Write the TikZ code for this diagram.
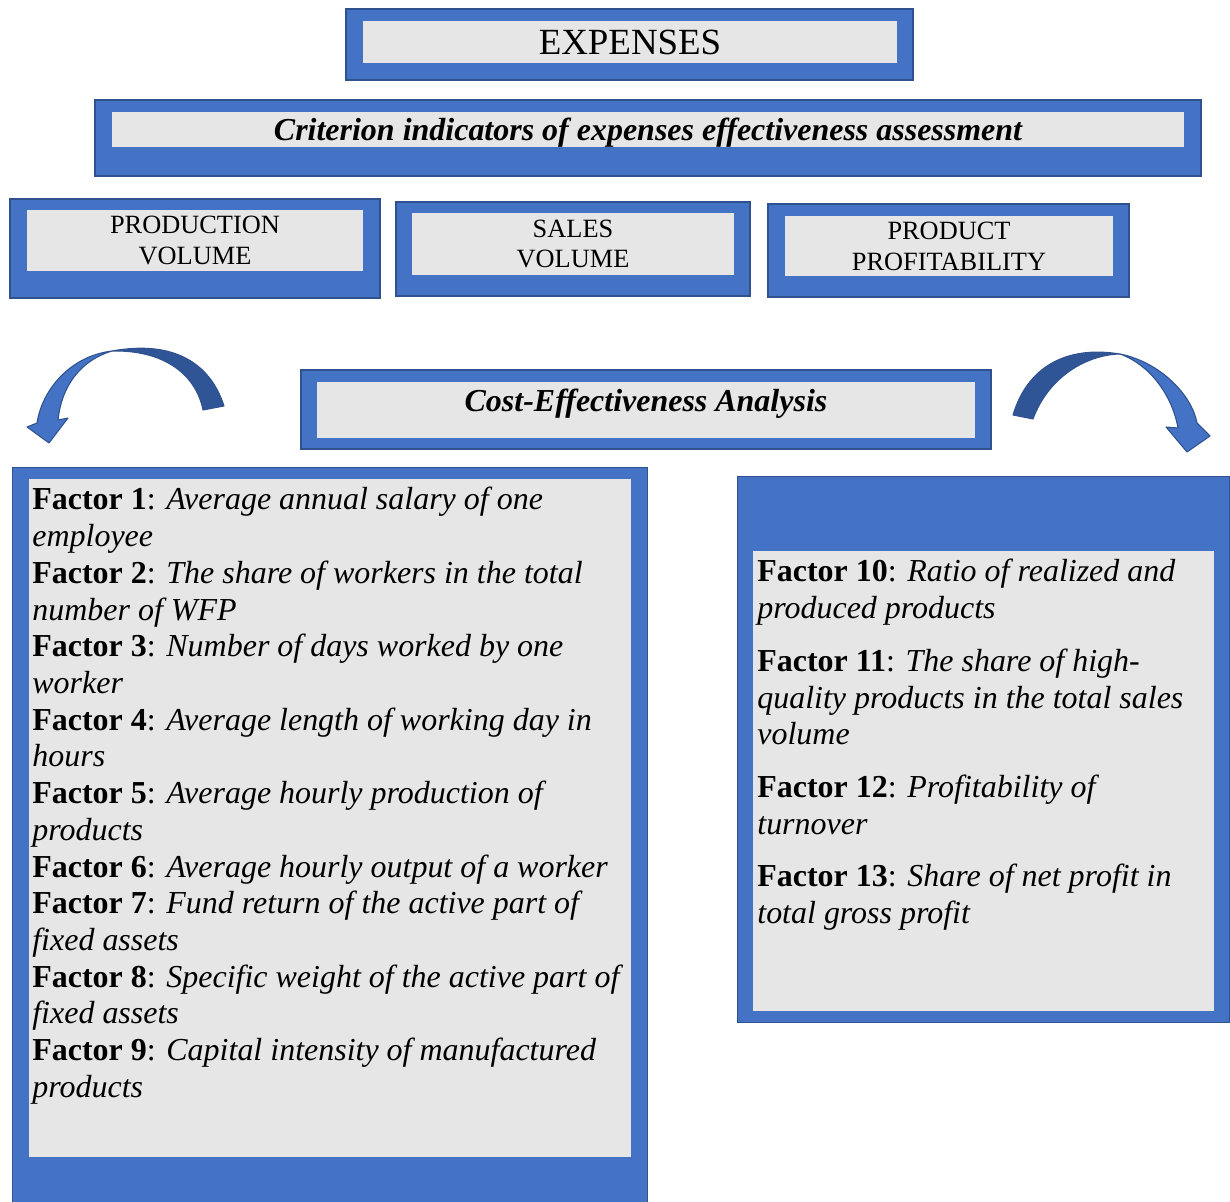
\documentclass[tikz,border=0pt]{standalone}
\usepackage{fontspec}
\setmainfont{Liberation Serif}
\usepackage{xcolor}
\usetikzlibrary{positioning}
\definecolor{boxblue}{HTML}{4472C4}
\definecolor{boxedge}{HTML}{2F528F}
\definecolor{arrowdark}{HTML}{2F5597}
\definecolor{boxgrey}{HTML}{E6E6E6}

\begin{document}
\begin{tikzpicture}[x=0.02cm, y=-0.02cm,
    frame/.style={draw=boxedge, line width=0.8pt, fill=boxblue, inner sep=0pt},
    panel/.style={fill=boxgrey, inner sep=0pt, align=center},
    small/.style={font=\fontsize{15}{17.6}\selectfont},
    heading/.style={font=\fontsize{18.2}{20.9}\selectfont\bfseries\itshape},
    factors/.style={inner sep=0pt, align=left, anchor=north west, font=\fontsize{18.2}{20.9}\selectfont},
    curvearrow/.style={draw=boxedge, line width=0.6pt, line join=round}]
    \useasboundingbox (0,0) rectangle (1230,1202);
        % Expenses
        \node[frame, minimum width=11.34cm, minimum height=1.42cm] (expOut) at (629.5,44.5) {};
        \node[panel, minimum width=10.68cm, minimum height=0.84cm, font=\fontsize{21}{24}\selectfont] (exp) at (630,42) {EXPENSES};
        % Criterion indicators
        \node[frame, minimum width=22.12cm, minimum height=1.52cm] (critOut) at (648,138) {};
        \node[panel, minimum width=21.44cm, minimum height=0.7cm,
            label={[yshift=-0.07cm, heading]center:Criterion indicators of expenses effectiveness assessment}] (crit) at (648,129.5) {};
        % Indicators
        \node[frame, minimum width=7.4cm, minimum height=1.98cm] (prodOut) at (195,248.5) {};
        \node[panel, small, minimum width=6.72cm, minimum height=1.22cm] (prod) at (195,240.5) {PRODUCTION\\VOLUME};
        \node[frame, minimum width=7.08cm, minimum height=1.88cm] (salesOut) at (573,249) {};
        \node[panel, small, minimum width=6.44cm, minimum height=1.24cm] (sales) at (573,244) {SALES\\VOLUME};
        \node[frame, minimum width=7.22cm, minimum height=1.86cm] (profOut) at (948.5,250.5) {};
        \node[panel, small, minimum width=6.56cm, minimum height=1.2cm] (prof) at (949,246) {PRODUCT\\PROFITABILITY};
        % Analysis
        \node[frame, minimum width=13.8cm, minimum height=1.58cm] (ceaOut) at (646,409.5) {};
        \node[panel, minimum width=13.16cm, minimum height=1.12cm,
            label={[yshift=0.12cm, heading]center:Cost-Effectiveness Analysis}] (cea) at (646,410) {};
        % Curved arrows
        \fill[arrowdark, curvearrow] (224,406) .. controls (210,362) and (172,340) .. (112,351)
            .. controls (165,350) and (196,375) .. (203,410) -- cycle;
        \fill[boxblue, curvearrow] (112,351) .. controls (70,356) and (42,390) .. (37,423) -- (27,427) -- (49,443)
            -- (68,418) -- (58,420) .. controls (62,384) and (82,360) .. (112,351) -- cycle;
        \fill[arrowdark, curvearrow] (1013,415) .. controls (1027,368) and (1065,345) .. (1120,354)
            .. controls (1085,355) and (1048,378) .. (1033,419) -- cycle;
        \fill[boxblue, curvearrow] (1120,354) .. controls (1160,362) and (1192,395) .. (1197,423) -- (1210,436) -- (1187,452)
            -- (1166,427) -- (1178,428) .. controls (1172,395) and (1150,365) .. (1120,354) -- cycle;
        % Factors 1-9
        \node[frame, minimum width=12.7cm, minimum height=15cm, anchor=north west] (facLOut) at (12,467) {};
        \node[panel, minimum width=12.04cm, minimum height=13.56cm, anchor=north west] (facL) at (29,479) {};
        \node[factors] (facLTxt) at (32,487) {%
            \textbf{Factor 1}: \textit{Average annual salary of one}\\
            \textit{employee}\\
            \textbf{Factor 2}: \textit{The share of workers in the total}\\
            \textit{number of WFP}\\
            \textbf{Factor 3}: \textit{Number of days worked by one}\\
            \textit{worker}\\
            \textbf{Factor 4}: \textit{Average length of working day in}\\
            \textit{hours}\\
            \textbf{Factor 5}: \textit{Average hourly production of}\\
            \textit{products}\\
            \textbf{Factor 6}: \textit{Average hourly output of a worker}\\
            \textbf{Factor 7}: \textit{Fund return of the active part of}\\
            \textit{fixed assets}\\
            \textbf{Factor 8}: \textit{Specific weight of the active part of}\\
            \textit{fixed assets}\\
            \textbf{Factor 9}: \textit{Capital intensity of manufactured}\\
            \textit{products}};
        % Factors 10-13
        \node[frame, minimum width=9.84cm, minimum height=10.92cm, anchor=north west] (facROut) at (737,476) {};
        \node[panel, minimum width=9.22cm, minimum height=9.2cm, anchor=north west] (facR) at (753,551) {};
        \node[factors] (facRTxt) at (757,559) {%
            \textbf{Factor 10}: \textit{Ratio of realized and}\\
            \textit{produced products}\\[9.1pt]
            \textbf{Factor 11}: \textit{The share of high-}\\
            \textit{quality products in the total sales}\\
            \textit{volume}\\[9.1pt]
            \textbf{Factor 12}: \textit{Profitability of}\\
            \textit{turnover}\\[9.1pt]
            \textbf{Factor 13}: \textit{Share of net profit in}\\
            \textit{total gross profit}};
    \end{tikzpicture}
\end{document}
